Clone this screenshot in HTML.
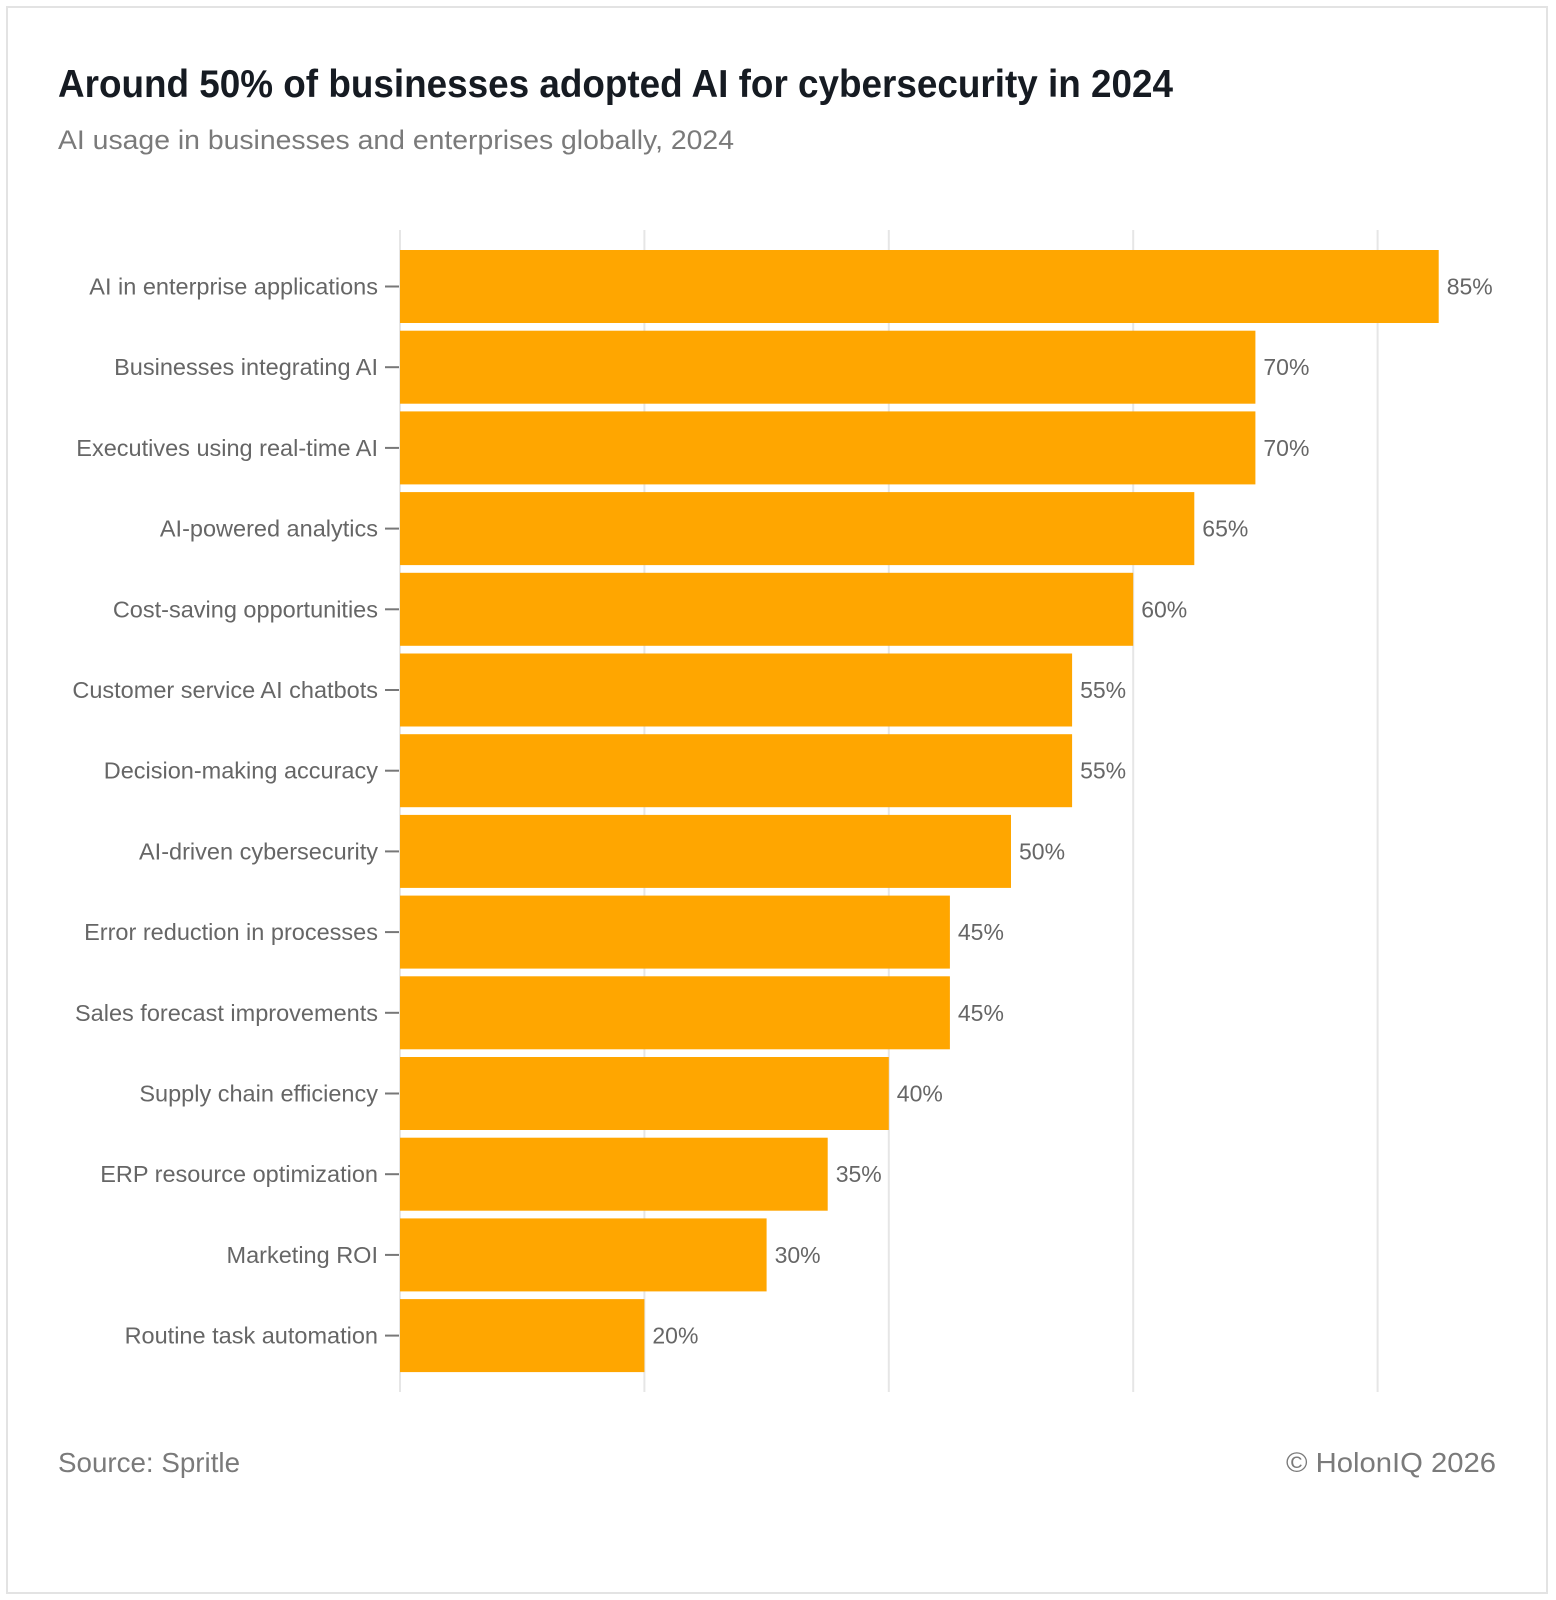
<!DOCTYPE html>
<html><head><meta charset="utf-8"><style>
body{margin:0;background:#fff;width:1556px;height:1600px;overflow:hidden;font-family:"Liberation Sans",sans-serif}
#frame{position:absolute;left:6px;top:6px;width:1542px;height:1588px;border:2px solid #e3e3e3;box-sizing:border-box}
</style></head><body>
<div id="frame"></div>
<svg id="chart" width="1556" height="1600" style="position:absolute;left:0;top:0">
<text x="58" y="97" font-size="39" font-weight="bold" fill="#161b22" textLength="1115" lengthAdjust="spacingAndGlyphs">Around 50% of businesses adopted AI for cybersecurity in 2024</text>
<text x="58" y="149" font-size="27" fill="#7a7a7a" textLength="676" lengthAdjust="spacingAndGlyphs">AI usage in businesses and enterprises globally, 2024</text>
<text x="58" y="1472" font-size="28" fill="#7a7a7a" textLength="182" lengthAdjust="spacingAndGlyphs">Source: Spritle</text>
<text x="1286" y="1472" font-size="28" fill="#7a7a7a" textLength="210" lengthAdjust="spacingAndGlyphs">© HolonIQ 2026</text>
<g id="grid"></g><g id="bars"></g>
</svg>
<script>
const categories=["AI in enterprise applications","Businesses integrating AI","Executives using real-time AI","AI-powered analytics","Cost-saving opportunities","Customer service AI chatbots","Decision-making accuracy","AI-driven cybersecurity","Error reduction in processes","Sales forecast improvements","Supply chain efficiency","ERP resource optimization","Marketing ROI","Routine task automation"];
const values=[85,70,70,65,60,55,55,50,45,45,40,35,30,20];
const gridTicks=[0,20,40,60,80];
const NS="http://www.w3.org/2000/svg";
const x0=400,pxPer=12.22,yTop=250,step=80.7,barH=73;
const xs=v=>x0+v*pxPer;
const ys=i=>yTop+i*step;
const grid=document.getElementById('grid'),bars=document.getElementById('bars');
function mk(t,a,p){const e=document.createElementNS(NS,t);for(const k in a)e.setAttribute(k,a[k]);p.appendChild(e);return e;}
gridTicks.forEach(t=>{
 const l=mk('line',{x1:xs(t),x2:xs(t),y1:230,y2:1392,stroke:'#e6e6e6','stroke-width':2},grid);
 
 
});
categories.forEach((c,i)=>{
 const y=ys(i),cy=y+barH/2;
 const r=mk('rect',{x:x0,y:y,width:xs(values[i])-x0,height:barH,fill:'#ffa600'},bars);
 
 
 const tk=mk('line',{x1:385,x2:399,y1:cy,y2:cy,stroke:'#777','stroke-width':2},bars);
 
 
 const lb=mk('text',{x:378,y:cy+8,'font-size':23.5,fill:'#666','text-anchor':'end'},bars);
 lb.textContent=c;
 
 
 const vl=mk('text',{x:xs(values[i])+8,y:cy+8,'font-size':23,fill:'#666'},bars);
 vl.textContent=values[i]+'%';
 
 
});
</script>
</body></html>
